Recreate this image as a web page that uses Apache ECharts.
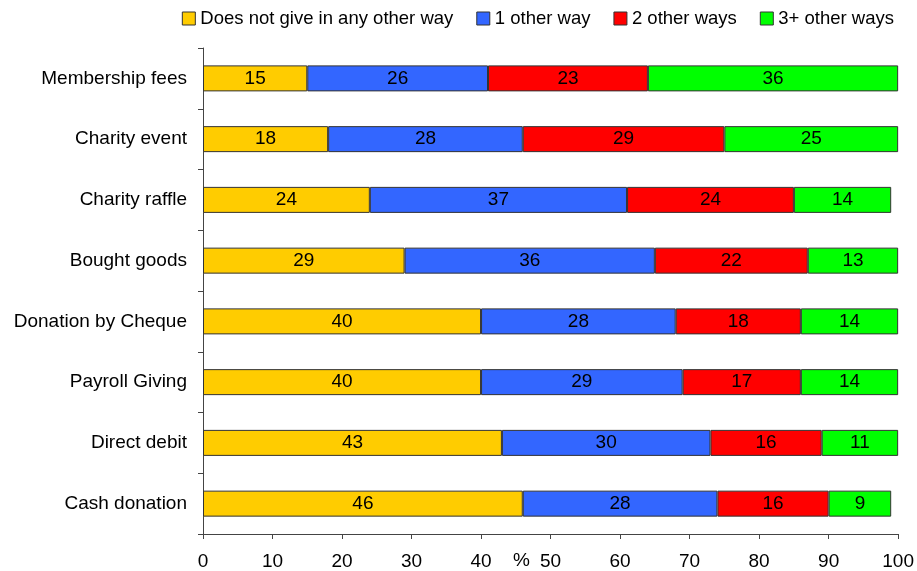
<!DOCTYPE html>
<html>
<head>
<meta charset="utf-8">
<script src="https://cdn.jsdelivr.net/npm/echarts@6/dist/echarts.min.js"></script>
<style>
  html, body { margin: 0; padding: 0; background: #fff; }
  #chart { width: 917px; height: 571px; }
</style>
</head>
<body>
<div id="chart"></div>
<script>
// Giving methods, listed bottom to top on the category axis
const categories = [
  'Cash donation', 'Direct debit', 'Payroll Giving', 'Donation by Cheque',
  'Bought goods', 'Charity raffle', 'Charity event', 'Membership fees'
];
const seriesNames = ['Does not give in any other way', '1 other way', '2 other ways', '3+ other ways'];
const noOther   = [46, 43, 40, 40, 29, 24, 18, 15];
const oneOther  = [28, 30, 29, 28, 36, 37, 28, 26];
const twoOther  = [16, 16, 17, 18, 22, 24, 29, 23];
const threePlus = [9, 11, 14, 14, 13, 14, 25, 36];
const xTicks = [0, 10, 20, 30, 40, 50, 60, 70, 80, 90, 100];
const colors = ['#FFCC00', '#3366FF', '#FF0000', '#00FF00'];

const FONT = '"Liberation Sans", Arial, sans-serif';
const values = [noOther, oneOther, twoOther, threePlus];

const chart = echarts.init(document.getElementById('chart'), null, { renderer: 'canvas' });

chart.setOption({
  animation: false,
  textStyle: { fontFamily: FONT },
  legend: {
    data: seriesNames,
    right: 18,
    top: 4,
    itemWidth: 13,
    itemHeight: 13,
    itemGap: 23,
    icon: 'rect',
    textStyle: { fontFamily: FONT, fontSize: 18.5, color: '#000' },
    itemStyle: { borderColor: '#333', borderWidth: 1 }
  },
  grid: { left: 203, right: 18, top: 48, bottom: 35, containLabel: false },
  xAxis: {
    type: 'value',
    min: xTicks[0],
    max: xTicks[xTicks.length - 1],
    interval: 10,
    axisLine: { show: true, lineStyle: { color: '#444', width: 1 } },
    axisTick: { show: true, length: 5, lineStyle: { color: '#444' } },
    axisLabel: { fontFamily: FONT, fontSize: 19, color: '#000', margin: 18 },
    splitLine: { show: false }
  },
  yAxis: {
    type: 'category',
    data: categories,
    axisLine: { show: true, lineStyle: { color: '#444', width: 1 } },
    axisTick: { show: true, length: 5, lineStyle: { color: '#444' } },
    axisLabel: { fontFamily: FONT, fontSize: 19, color: '#000', margin: 16 }
  },
  graphic: [{
    type: 'text',
    left: 513,
    top: 551,
    style: { text: '%', font: '19px ' + FONT, fill: '#000' }
  }],
  series: seriesNames.map((name, i) => ({
    name: name,
    type: 'bar',
    stack: 'total',
    barWidth: 26,
    data: values[i],
    itemStyle: { color: colors[i], borderColor: '#333', borderWidth: 1 },
    label: {
      show: true,
      position: 'inside',
      fontFamily: FONT,
      fontSize: 19,
      color: '#000'
    }
  }))
});
</script>
</body>
</html>
